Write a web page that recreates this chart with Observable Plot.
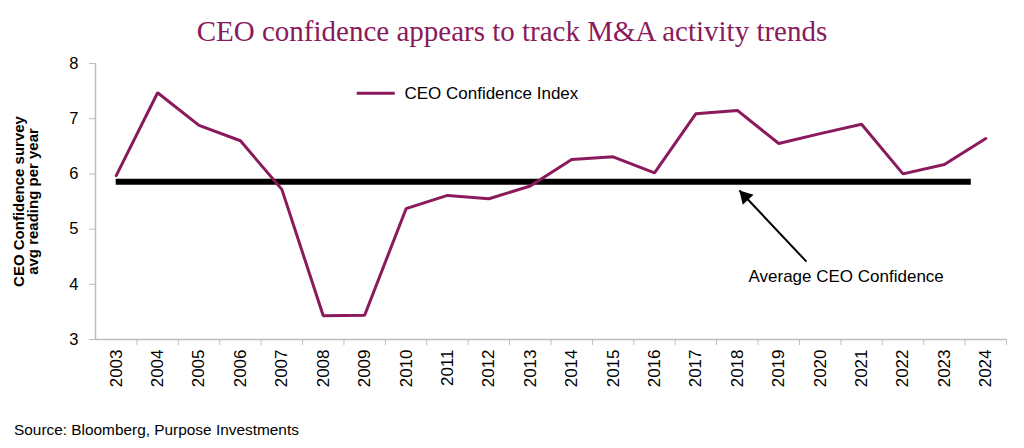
<!DOCTYPE html>
<html><head><meta charset="utf-8">
<script src="https://cdn.jsdelivr.net/npm/d3@7"></script>
<script src="https://cdn.jsdelivr.net/npm/@observablehq/plot@0.6"></script>
<style>
body{margin:0;background:#fff;font-family:"Liberation Sans",Arial,sans-serif;}
#wrap{position:relative;width:1024px;height:448px;overflow:hidden;}
#title{position:absolute;top:14px;left:0;width:1024px;text-align:center;font-family:"Liberation Serif","Times New Roman",serif;font-size:29px;line-height:34px;color:#8a1a5c;}
#source{position:absolute;left:14px;top:421px;font-size:15.4px;line-height:18px;color:#000;}
#chart{position:absolute;left:0;top:0;}
</style></head>
<body>
<div id="wrap">
<div id="chart"></div>
<div id="title">CEO confidence appears to track M&amp;A activity trends</div>
<div id="source">Source: Bloomberg, Purpose Investments</div>
</div>
<script>
const years = [2003,2004,2005,2006,2007,2008,2009,2010,2011,2012,2013,2014,2015,2016,2017,2018,2019,2020,2021,2022,2023,2024];
const ceoIndex = [5.97,7.47,6.88,6.60,5.72,3.43,3.44,5.37,5.61,5.55,5.78,6.26,6.31,6.02,7.09,7.15,6.55,6.73,6.90,6.00,6.17,6.64];
const yTicks = [3,4,5,6,7,8];
const averageValue = 5.86;
const averageSpan = [2003, 2023.65];
const seriesName = "CEO Confidence Index";
const avgLabel = "Average CEO Confidence";
const yLabel = "CEO Confidence survey\navg reading per year";
// annotation anchors in data units (year, index)
const legendLine = [{x1: 2008.82, x2: 2009.74, y: 7.46}];
const legendText = [{x: 2009.96, y: 7.46, text: seriesName}];
const arrowSpec = [{x1: 2019.67, y1: 4.41, x2: 2018.05, y2: 5.70}];
const avgText = [{x: 2018.27, y: 4.14, text: avgLabel}];

const purple = "#8a1a5c";
const gray = "#bfbfbf";
const data = years.map((y, i) => ({year: y, v: ceoIndex[i]}));
const halfTicks = years.map(y => y + 0.5);

const chart = Plot.plot({
  width: 1024, height: 448,
  marginLeft: 95, marginRight: 18, marginTop: 63, marginBottom: 109,
  x: {domain: [years[0] - 0.5, years[years.length - 1] + 0.5]},
  y: {domain: [3, 8]},
  style: {fontFamily: "'Liberation Sans', Arial, sans-serif", fontSize: "16px", color: "#000", background: "transparent"},
  marks: [
    Plot.ruleX([years[0] - 0.5], {stroke: gray, strokeWidth: 1.5}),
    Plot.ruleY([3], {stroke: gray, strokeWidth: 1.5}),
    Plot.axisY({ticks: yTicks, tickSize: 6, tickPadding: 11, tickFormat: d => String(d), stroke: gray, fill: "#000", fontSize: 16.5, label: null}),
    Plot.axisX({ticks: halfTicks, tickSize: 6, tickFormat: () => "", stroke: gray, label: null}),
    Plot.axisX({ticks: years, tickSize: 0, tickPadding: 10, tickRotate: -90, tickFormat: d => String(d), fill: "#000", fontSize: 17, label: null}),
    Plot.ruleY([{y: averageValue, x1: averageSpan[0], x2: averageSpan[1]}], {y: "y", x1: "x1", x2: "x2", stroke: "#000", strokeWidth: 6}),
    Plot.line(data, {x: "year", y: "v", stroke: purple, strokeWidth: 3, strokeLinejoin: "miter"}),
    Plot.ruleY(legendLine, {y: "y", x1: "x1", x2: "x2", stroke: purple, strokeWidth: 3}),
    Plot.text(legendText, {x: "x", y: "y", text: "text", textAnchor: "start", fontSize: 17, fill: "#000"}),
    Plot.link(arrowSpec, {x1: "x1", y1: "y1", x2: "x2", y2: "y2", stroke: "#000", strokeWidth: 2}),
    Plot.dot(arrowSpec, {x: "x2", y: "y2", symbol: "triangle", r: 5.5, fill: "#000", stroke: null, rotate: -43, dx: 5.8, dy: 6.2}),
    Plot.text(avgText, {x: "x", y: "y", text: "text", textAnchor: "start", fontSize: 17, fill: "#000"}),
    Plot.text([yLabel], {frameAnchor: "left", textAnchor: "middle", dx: -69, rotate: -90, fontWeight: "bold", fontSize: 15, lineHeight: 0.95, fill: "#000", text: d => d})
  ]
});
document.getElementById("chart").appendChild(chart);
</script>
</body></html>
